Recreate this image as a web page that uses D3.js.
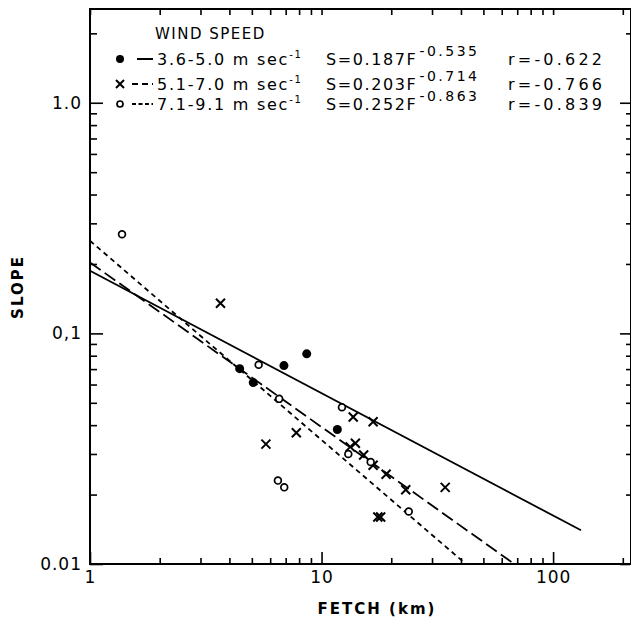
<!DOCTYPE html>
<html>
<head>
<meta charset="utf-8">
<script src="https://cdn.jsdelivr.net/npm/d3@7"></script>
<style>
  body { margin: 0; background: #fff; }
  #viz-slope text { font-family: "DejaVu Sans", sans-serif; fill: #000; }
</style>
</head>
<body>
<div id="viz-slope"></div>
<script>
// ---- Data ----
const speedClasses = ["3.6-5.0", "5.1-7.0", "7.1-9.1"];
const fitCoef = ["0.187", "0.203", "0.252"];
const fitExp = ["-0.535", "-0.714", "-0.863"];
const fitR = ["-0.622", "-0.766", "-0.839"];

// [fetch km, slope]
const lowWind = [[4.43, 0.0703], [5.07, 0.0612], [6.88, 0.0725], [8.63, 0.0815], [11.7, 0.0383]];
const midWind = [[3.66, 0.135], [5.75, 0.0331], [7.78, 0.0371], [13.3, 0.0322], [13.7, 0.0434],
  [14.0, 0.0334], [15.2, 0.0297], [16.7, 0.0414], [16.7, 0.0268], [19.0, 0.0245],
  [23.1, 0.0210], [34.2, 0.0215], [17.5, 0.0160], [18.0, 0.0160]];
const highWind = [[1.375, 0.269], [5.35, 0.0731], [6.56, 0.0520], [12.25, 0.0478], [13.05, 0.0300],
  [16.3, 0.0277], [6.48, 0.0230], [6.90, 0.0215], [23.8, 0.0169]];

// regression lines, start and end points as drawn
const fitLines = [
  [[1, 0.187], [132, 0.0140]],
  [[1, 0.203], [68, 0.0100]],
  [[1, 0.252], [42, 0.0100]]
];

const xTicksMajor = [1, 10, 100];
const xTickLabels = ["1", "10", "100"];
const xTicksMinor = [2, 3, 4, 5, 6, 7, 8, 9, 20, 30, 40, 50, 60, 70, 80, 90, 200];
const yTicksMajor = [0.01, 0.1, 1];
const yTickLabels = ["0.01", "0,1", "1.0"];
const yTicksMinor = [0.02, 0.03, 0.04, 0.05, 0.06, 0.07, 0.08, 0.09,
  0.2, 0.3, 0.4, 0.5, 0.6, 0.7, 0.8, 0.9, 2];

const SlopeChart = (() => {

  const SELECTOR = "#viz-slope";
  const W = 631, H = 619;
  const margin = { top: 9, right: 0, bottom: 55, left: 90 };
  const dashes = [null, "13,5", "5,4"];

  function render() {
    const svg = d3.select(SELECTOR).append("svg")
      .attr("width", W).attr("height", H);

    const x = d3.scaleLog().domain([1, 217]).range([margin.left, W - margin.right]);
    const y = d3.scaleLog().domain([0.01, 2.55]).range([H - margin.bottom, margin.top]);

    // ---- Frame ----
    svg.append("rect")
      .attr("x", x.range()[0]).attr("y", y.range()[1])
      .attr("width", x.range()[1] - x.range()[0])
      .attr("height", y.range()[0] - y.range()[1])
      .attr("fill", "none").attr("stroke", "#000").attr("stroke-width", 2);

    // ---- Axes: ticks point inward on all four sides ----
    const addAxis = (axis, tr) => {
      const g = svg.append("g").attr("transform", tr).call(axis);
      g.select(".domain").remove();
      g.selectAll(".tick line").attr("stroke", "#000").attr("stroke-width", 1.6);
      g.selectAll(".tick text").attr("font-size", 17).attr("fill", "#000")
        .attr("letter-spacing", 1)
        .attr("font-family", "DejaVu Sans, sans-serif");
      return g;
    };
    const bottom = y.range()[0], top = y.range()[1];
    const left = x.range()[0], right = x.range()[1];

    addAxis(d3.axisBottom(x).tickValues(xTicksMinor).tickSize(-6).tickFormat(""), `translate(0,${bottom})`);
    addAxis(d3.axisBottom(x).tickValues(xTicksMajor).tickSize(-12).tickPadding(7)
      .tickFormat((d, i) => xTickLabels[i]), `translate(0,${bottom})`);
    addAxis(d3.axisTop(x).tickValues(xTicksMinor.concat(xTicksMajor)).tickSize(-6).tickFormat(""),
      `translate(0,${top})`);

    addAxis(d3.axisLeft(y).tickValues(yTicksMinor).tickSize(-7).tickFormat(""), `translate(${left},0)`);
    addAxis(d3.axisLeft(y).tickValues(yTicksMajor).tickSize(-13).tickPadding(8)
      .tickFormat((d, i) => yTickLabels[i]), `translate(${left},0)`);
    addAxis(d3.axisRight(y).tickValues(yTicksMinor).tickSize(-4).tickFormat(""), `translate(${right - 1},0)`);
    addAxis(d3.axisRight(y).tickValues(yTicksMajor).tickSize(-10).tickFormat(""), `translate(${right - 1},0)`);

    // ---- Axis titles ----
    svg.append("text")
      .attr("x", 377).attr("y", 614)
      .attr("text-anchor", "middle").attr("font-size", 15).attr("font-weight", "bold")
      .attr("letter-spacing", 2)
      .text("FETCH (km)");
    svg.append("text")
      .attr("transform", "translate(23,287) rotate(-90)")
      .attr("text-anchor", "middle").attr("font-size", 15).attr("font-weight", "bold")
      .attr("letter-spacing", 2)
      .text("SLOPE");

    // ---- Regression lines ----
    const line = d3.line().x(d => x(d[0])).y(d => y(d[1]));
    svg.selectAll(".fit")
      .data(fitLines)
      .join("path")
      .attr("class", "fit")
      .attr("d", line)
      .attr("fill", "none")
      .attr("stroke", "#000")
      .attr("stroke-width", 1.8)
      .attr("stroke-dasharray", (d, i) => dashes[i]);

    // ---- Points ----
    const drawFilled = (g, data, r) => g.selectAll("circle.f").data(data).join("circle")
      .attr("class", "f").attr("cx", d => d[0]).attr("cy", d => d[1]).attr("r", r).attr("fill", "#000");
    const drawCross = (g, data, s) => g.selectAll("path.x").data(data).join("path")
      .attr("class", "x")
      .attr("d", d => `M${d[0] - s},${d[1] - s}L${d[0] + s},${d[1] + s}M${d[0] - s},${d[1] + s}L${d[0] + s},${d[1] - s}`)
      .attr("stroke", "#000").attr("stroke-width", 2);
    const drawOpen = (g, data, r) => g.selectAll("circle.o").data(data).join("circle")
      .attr("class", "o").attr("cx", d => d[0]).attr("cy", d => d[1]).attr("r", r)
      .attr("fill", "#fff").attr("stroke", "#000").attr("stroke-width", 1.7);

    const pts = svg.append("g");
    const proj = arr => arr.map(d => [x(d[0]), y(d[1])]);
    drawFilled(pts.append("g"), proj(lowWind), 4.5);
    drawCross(pts.append("g"), proj(midWind), 4.5);
    drawOpen(pts.append("g"), proj(highWind), 3.4);

    // ---- Legend ----
    const lg = svg.append("g");
    lg.append("text").attr("x", 155).attr("y", 39)
      .attr("font-size", 15).attr("letter-spacing", 1.5).text("WIND SPEED");

    const rowY = [59, 84, 104];
    drawFilled(lg.append("g"), [[120, rowY[0]]], 4);
    drawCross(lg.append("g"), [[120, rowY[1]]], 4);
    drawOpen(lg.append("g"), [[120, rowY[2]]], 3);

    speedClasses.forEach((s, i) => {
      const yy = rowY[i];
      lg.append("line")
        .attr("x1", i === 0 ? 137 : 132).attr("x2", 153)
        .attr("y1", yy).attr("y2", yy)
        .attr("stroke", "#000").attr("stroke-width", 2)
        .attr("stroke-dasharray", i === 0 ? null : (i === 1 ? "6,4" : "4,2.5"));

      const t = lg.append("text").attr("x", 157).attr("y", yy + 6)
        .attr("font-size", 16).attr("letter-spacing", 1.75);
      t.append("tspan").text(`${s} m sec`);
      t.append("tspan").attr("font-size", 10).attr("dy", -7).text("-1");

      const e = lg.append("text").attr("x", 326).attr("y", yy + 6)
        .attr("font-size", 16).attr("letter-spacing", 1.6);
      e.append("tspan").text(`S=${fitCoef[i]}F`);
      e.append("tspan").attr("font-size", 14).attr("letter-spacing", 2.5)
        .attr("dy", -9).attr("dx", 2).text(fitExp[i]);

      lg.append("text").attr("x", 508).attr("y", yy + 6)
        .attr("font-size", 16).attr("letter-spacing", 3.2)
        .text(`r=${fitR[i]}`);
    });
  }

  return { render };

})();

SlopeChart.render();
</script>
</body>
</html>
